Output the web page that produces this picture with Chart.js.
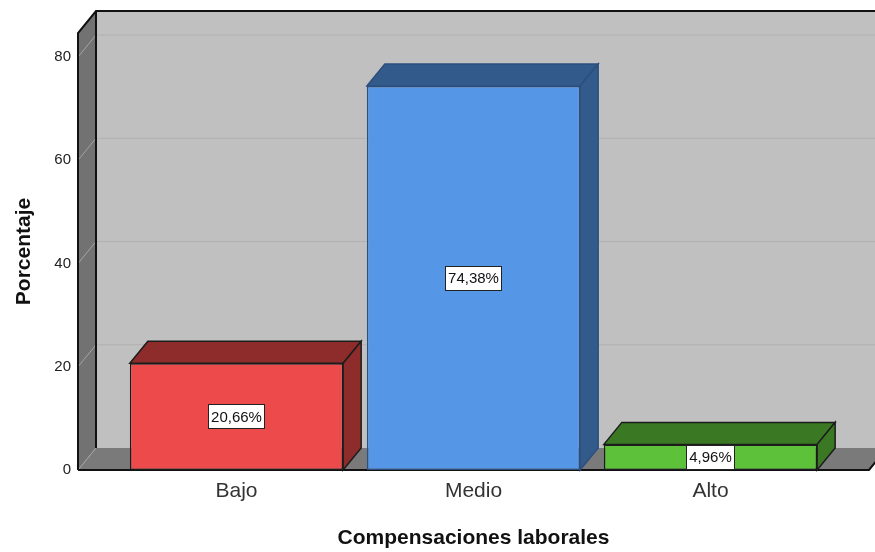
<!DOCTYPE html>
<html>
<head>
<meta charset="utf-8">
<script src="https://cdn.jsdelivr.net/npm/chart.js@4/dist/chart.umd.min.js"></script>
<style>
  html, body { margin: 0; padding: 0; background: #fff; }
  canvas { display: block; }
</style>
</head>
<body>
<canvas id="chart" width="875" height="552"></canvas>
<script>
// Data
const categories = ['Bajo', 'Medio', 'Alto'];
const percentages = [20.66, 74.38, 4.96];
const yTicks = [0, 20, 40, 60, 80];
const yMax = 84.65;

// Bar colours: front face, shaded top/side faces, outline
const frontColors = ['#ED4B4B', '#5596E6', '#5DC23A'];
const shadeColors = ['#8E2B2B', '#325B8C', '#3A7824'];
const edgeColors = ['#1c1c1c', '#2c4f7d', '#1c1c1c'];

// Depth of the oblique 3D projection (pixels)
const DX = 18, DY = 22;
const FONT = '"Liberation Sans", Arial, sans-serif';

function pathOf(ctx, pts) {
  ctx.beginPath();
  ctx.moveTo(pts[0][0], pts[0][1]);
  for (let i = 1; i < pts.length; i++) ctx.lineTo(pts[i][0], pts[i][1]);
}
function fillPoly(ctx, pts, color) {
  pathOf(ctx, pts);
  ctx.closePath();
  ctx.fillStyle = color;
  ctx.fill();
}
function strokeLine(ctx, pts) {
  pathOf(ctx, pts);
  ctx.stroke();
}

// Draws the walls, floor and gridlines behind the bars, then the
// shaded top and side faces of each bar and the value labels.
const box3d = {
  id: 'box3d',
  beforeDatasetsDraw(chart) {
    const { ctx, chartArea: a, scales: { y } } = chart;
    const L = a.left - 40, R = a.right + 40;
    const y0 = y.getPixelForValue(0);
    const yT = y.getPixelForValue(yMax);
    ctx.save();
    // back wall
    fillPoly(ctx, [[L + DX, yT - DY], [R + DX, yT - DY], [R + DX, y0 - DY], [L + DX, y0 - DY]], '#C0C0C0');
    // left wall
    fillPoly(ctx, [[L, yT], [L + DX, yT - DY], [L + DX, y0 - DY], [L, y0]], '#727272');
    // floor
    fillPoly(ctx, [[L, y0], [L + DX, y0 - DY], [R + DX, y0 - DY], [R, y0]], '#7A7A7A');
    // gridlines
    ctx.lineWidth = 1;
    yTicks.forEach(v => {
      const py = y.getPixelForValue(v);
      ctx.strokeStyle = '#A4A4A4';
      strokeLine(ctx, [[L, py], [L + DX, py - DY]]);
      if (v > 0) {
        ctx.strokeStyle = '#B0B0B0';
        strokeLine(ctx, [[L + DX, py - DY], [R + DX, py - DY]]);
      }
    });
    // frame edges
    ctx.strokeStyle = '#111';
    ctx.lineWidth = 2;
    ctx.lineJoin = 'miter';
    strokeLine(ctx, [[L, y0], [L, yT], [L + DX, yT - DY], [R + DX, yT - DY]]);
    strokeLine(ctx, [[L + DX, yT - DY], [L + DX, y0 - DY]]);
    strokeLine(ctx, [[L, y0], [R, y0], [R + DX, y0 - DY]]);
    ctx.restore();
  },
  afterDatasetsDraw(chart) {
    const { ctx } = chart;
    const meta = chart.getDatasetMeta(0);
    ctx.save();
    meta.data.forEach((bar, i) => {
      const { x, y: top, base, width } = bar.getProps(['x', 'y', 'base', 'width'], true);
      const l = x - width / 2, r = x + width / 2;
      const topFace = [[l, top], [l + DX, top - DY], [r + DX, top - DY], [r, top]];
      const sideFace = [[r, top], [r + DX, top - DY], [r + DX, base - DY], [r, base]];
      ctx.lineWidth = 1.5;
      ctx.lineJoin = 'miter';
      ctx.strokeStyle = edgeColors[i];
      [topFace, sideFace].forEach(face => {
        fillPoly(ctx, face, shadeColors[i]);
        ctx.stroke();
      });
    });
    // value labels
    ctx.font = '15px ' + FONT;
    ctx.textAlign = 'center';
    ctx.textBaseline = 'middle';
    meta.data.forEach((bar, i) => {
      const { x, y: top, base } = bar.getProps(['x', 'y', 'base'], true);
      const txt = percentages[i].toFixed(2).replace('.', ',') + '%';
      const w = Math.round(ctx.measureText(txt).width + 6), h = 25;
      const cy = (top + base) / 2;
      const bx = Math.round(x - w / 2), by = Math.round(cy - h / 2);
      ctx.fillStyle = '#fff';
      ctx.fillRect(bx, by, w, h);
      ctx.strokeStyle = '#222';
      ctx.lineWidth = 1;
      ctx.strokeRect(bx + 0.5, by + 0.5, w - 1, h - 1);
      ctx.fillStyle = '#111';
      ctx.fillText(txt, x, cy + 1);
    });
    ctx.restore();
  }
};

new Chart(document.getElementById('chart'), {
  type: 'bar',
  data: {
    labels: categories,
    datasets: [{
      data: percentages,
      backgroundColor: frontColors,
      borderColor: edgeColors,
      borderWidth: 1.5,
      borderSkipped: false,
      barPercentage: 0.9,
      categoryPercentage: 1
    }]
  },
  options: {
    responsive: false,
    animation: false,
    devicePixelRatio: 1,
    layout: { padding: { top: 33, right: 46, left: 0, bottom: 0 } },
    plugins: { legend: { display: false }, tooltip: { enabled: false } },
    scales: {
      x: {
        grid: { display: false, drawTicks: false },
        border: { display: false },
        ticks: { font: { family: FONT, size: 21 }, color: '#333', padding: 9 },
        title: {
          display: true, text: 'Compensaciones laborales', color: '#111',
          font: { family: FONT, size: 21, weight: 'bold' }, padding: { top: 0, bottom: 1 }
        },
        afterFit(s) { s.height = 82; }
      },
      y: {
        min: 0, max: yMax,
        grid: { display: false, drawTicks: false },
        border: { display: false },
        afterBuildTicks(s) { s.ticks = yTicks.map(v => ({ value: v })); },
        ticks: { font: { family: FONT, size: 15 }, color: '#222', padding: 47 },
        title: {
          display: true, text: 'Porcentaje', color: '#111',
          font: { family: FONT, size: 21, weight: 'bold' }, padding: { top: 12, bottom: 0 }
        },
        afterFit(s) {
          s.width = 118;
          s.paddingTop = 0;
          s.paddingBottom = 0;
        }
      }
    }
  },
  plugins: [box3d]
});
</script>
</body>
</html>
